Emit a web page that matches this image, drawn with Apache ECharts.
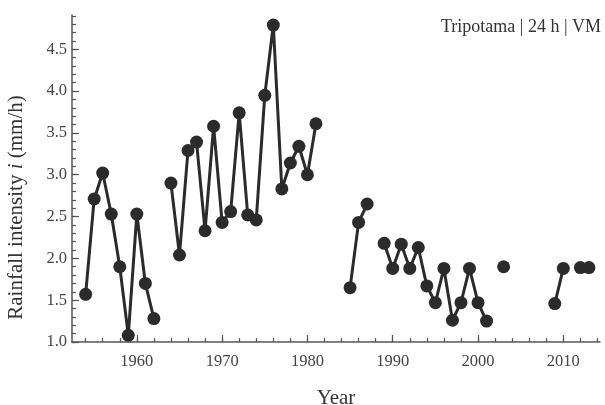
<!DOCTYPE html>
<html><head><meta charset="utf-8">
<script src="https://cdn.jsdelivr.net/npm/echarts@6/dist/echarts.min.js"></script>
<style>html,body{margin:0;padding:0;background:#fff}#c{width:605px;height:405px}</style>
</head><body><div id="c"></div>
<script>
const years = [1954,1955,1956,1957,1958,1959,1960,1961,1962,1963,
  1964,1965,1966,1967,1968,1969,1970,1971,1972,1973,
  1974,1975,1976,1977,1978,1979,1980,1981,1982,1983,
  1984,1985,1986,1987,1988,1989,1990,1991,1992,1993,
  1994,1995,1996,1997,1998,1999,2000,2001,2002,2003,
  2004,2005,2006,2007,2008,2009,2010,2011,2012,2013];
const intensity = [1.57,2.71,3.02,2.53,1.90,1.08,2.53,1.70,1.28,null,
  2.90,2.04,3.29,3.39,2.33,3.58,2.43,2.56,3.74,2.52,
  2.46,3.95,4.79,2.83,3.14,3.34,3.00,3.61,null,null,
  null,1.65,2.43,2.65,null,2.18,1.88,2.17,1.88,2.13,
  1.67,1.47,1.88,1.26,1.47,1.88,1.47,1.25,null,1.90,
  null,null,null,null,null,1.46,1.88,null,1.89,1.89];
const xTickLabels = [1960,1970,1980,1990,2000,2010];
const yTickLabels = ['1.0','1.5','2.0','2.5','3.0','3.5','4.0','4.5'];
const annotation = 'Tripotama | 24 h | VM';

const xMinor = []; for (let y = 1954; y <= 2014; y += 2) xMinor.push(y);
const yMinor = []; for (let k = 10; k <= 49; k++) yMinor.push(k / 10);
const yMajor = yTickLabels.map(Number);

const XMIN = 1952.4, XMAX = 2014.3, YMIN = 1.0, YMAX = 4.91;
const serif = 'Liberation Serif';
const axisCol = '#555';
const tickRich = {s: {fontFamily: serif, fontSize: 16.5, color: '#444'}};

const chart = echarts.init(document.getElementById('c'), null, {renderer: 'canvas'});
chart.setOption({
  animation: false,
  backgroundColor: '#fff',
  textStyle: {fontFamily: serif},
  grid: {left: 72, right: 5, top: 15, bottom: 63, containLabel: false, outerBoundsMode: 'none'},
  graphic: [{
    type: 'text', right: 4, top: 18,
    style: {text: annotation, font: '18px "Liberation Serif"', fill: '#333'}
  }],
  xAxis: [{
    type: 'value', min: XMIN, max: XMAX, position: 'bottom',
    name: 'Year', nameLocation: 'middle', nameGap: 46,
    nameTextStyle: {fontFamily: serif, fontSize: 21, color: '#333'},
    axisLine: {show: true, lineStyle: {color: axisCol, width: 1.5}},
    axisTick: {show: true, inside: true, length: 7, customValues: xTickLabels, lineStyle: {color: axisCol, width: 1.2}},
    axisLabel: {show: true, customValues: xTickLabels, margin: 11, rich: tickRich, formatter: v => '{s|' + v + '}'},
    splitLine: {show: false}
  }, {
    type: 'value', min: XMIN, max: XMAX, position: 'bottom',
    axisLine: {show: false},
    axisTick: {show: true, inside: true, length: 4, customValues: xMinor, lineStyle: {color: axisCol, width: 1.2}},
    axisLabel: {show: false}, splitLine: {show: false}
  }],
  yAxis: [{
    type: 'value', min: YMIN, max: YMAX, position: 'left',
    name: '{a|Rainfall intensity }{b|i}{a| (mm/h)}', nameLocation: 'middle', nameGap: 45,
    nameTextStyle: {padding: [0, 58, 0, 0], rich: {
      a: {fontFamily: serif, fontSize: 21, color: '#333'},
      b: {fontFamily: serif, fontSize: 21, fontStyle: 'italic', color: '#333'}
    }},
    axisLine: {show: true, lineStyle: {color: axisCol, width: 1.5}},
    axisTick: {show: true, inside: true, length: 7, customValues: yMajor, lineStyle: {color: axisCol, width: 1.2}},
    axisLabel: {show: true, customValues: yMajor, margin: 5, rich: tickRich, formatter: v => '{s|' + v.toFixed(1) + '}'},
    splitLine: {show: false}
  }, {
    type: 'value', min: YMIN, max: YMAX, position: 'left',
    axisLine: {show: false},
    axisTick: {show: true, inside: true, length: 4, customValues: yMinor, lineStyle: {color: axisCol, width: 1.2}},
    axisLabel: {show: false}, splitLine: {show: false}
  }],
  series: [{
    type: 'line', xAxisIndex: 0, yAxisIndex: 0,
    data: years.map((y, i) => [y, intensity[i] == null ? '-' : intensity[i]]),
    connectNulls: false,
    symbol: 'circle', symbolSize: 13, showSymbol: true,
    lineStyle: {color: '#2b2b2b', width: 3},
    itemStyle: {color: '#2b2b2b'}
  }]
});
</script></body></html>
